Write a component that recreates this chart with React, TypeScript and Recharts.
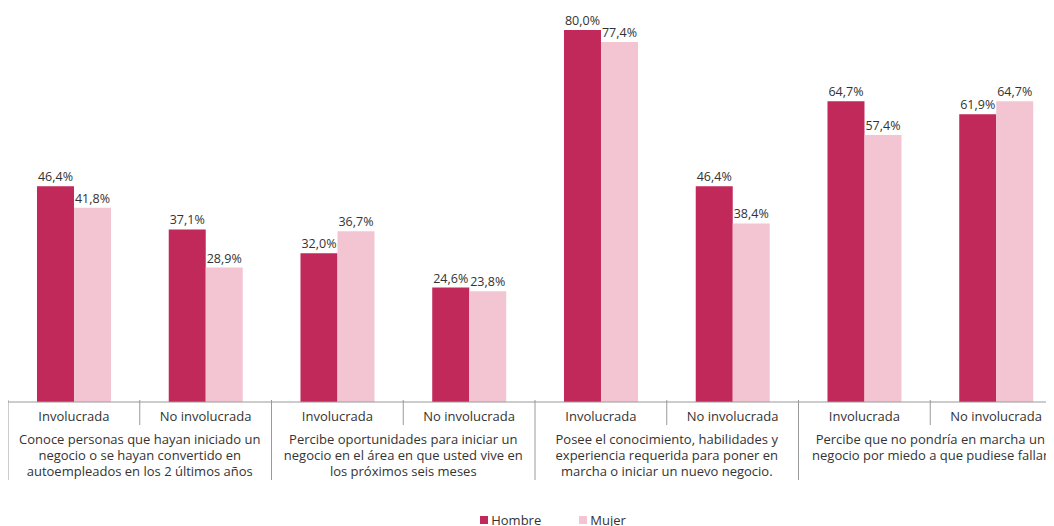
import { BarChart, Bar, XAxis, YAxis, Legend, LabelList } from "recharts";

const subGroups = [
  "Involucrada",
  "No involucrada",
  "Involucrada",
  "No involucrada",
  "Involucrada",
  "No involucrada",
  "Involucrada",
  "No involucrada",
];

const categoryLines = [
  ["Conoce personas que hayan iniciado un", "negocio o se hayan convertido en", "autoempleados en los 2 últimos años"],
  ["Percibe oportunidades para iniciar un", "negocio en el área en que usted vive en", "los próximos seis meses"],
  ["Posee el conocimiento, habilidades y", "experiencia requerida para poner en", "marcha o iniciar un nuevo negocio."],
  ["Percibe que no pondría en marcha un", "negocio por miedo a que pudiese fallar"],
];

const hombre = [46.4, 37.1, 32.0, 24.6, 80.0, 46.4, 64.7, 61.9];
const mujer = [41.8, 28.9, 36.7, 23.8, 77.4, 38.4, 57.4, 64.7];

const data = subGroups.map((s, i) => ({ key: i, sub: s, hombre: hombre[i], mujer: mujer[i] }));

const CHART_W = 1054;
const CHART_H = 530;
const MARGIN = { top: 22, right: 0, left: 0, bottom: 9 };
const BAND = (CHART_W - MARGIN.left - MARGIN.right) / data.length;

const FONT = "'Open Sans', sans-serif";
const TEXT = "#333333";
const RULE = "#9a9a9a";
const HOMBRE = "#c1295a";
const MUJER = "#f3c4d2";

const fmt = (v: number) => v.toFixed(1).replace(".", ",") + "%";

function GroupTick(props: any) {
  const { x, y, index } = props;
  const left = x - BAND / 2;
  const right = x + BAND / 2;
  const isFirst = index % 2 === 0;
  const cat = categoryLines[Math.floor(index / 2)];
  return (
    <g>
      <line x1={left} x2={left} y1={y - 2} y2={y + (isFirst ? 78 : 23)} stroke={RULE} strokeWidth={1} />
      {index === data.length - 1 && (
        <line x1={right} x2={right} y1={y - 2} y2={y + 78} stroke={RULE} strokeWidth={1} />
      )}
      <text x={x} y={y + 14} textAnchor="middle" dominantBaseline="central" fontSize={13} fill={TEXT} fontFamily={FONT}>
        {subGroups[index]}
      </text>
      {isFirst &&
        cat.map((line, k) => (
          <text
            key={k}
            x={right}
            y={y + 37 + k * 16}
            textAnchor="middle"
            dominantBaseline="central"
            fontSize={13}
            fill={TEXT}
            fontFamily={FONT}
          >
            {line}
          </text>
        ))}
    </g>
  );
}

function LegendContent() {
  const items = [
    { name: "Hombre", color: HOMBRE },
    { name: "Mujer", color: MUJER },
  ];
  return (
    <div style={{ display: "flex", justifyContent: "center", gap: 38, fontFamily: FONT, fontSize: 13, color: TEXT, paddingLeft: 36 }}>
      {items.map((it) => (
        <div key={it.name} style={{ display: "flex", alignItems: "center", gap: 3 }}>
          <span style={{ width: 8, height: 8, background: it.color, display: "inline-block" }} />
          <span>{it.name}</span>
        </div>
      ))}
    </div>
  );
}

export default function App() {
  return (
    <div style={{ width: 1054, height: 518, overflow: "hidden" }}>
      <BarChart
        width={CHART_W}
        height={CHART_H}
        data={data}
        margin={MARGIN}
        barCategoryGap="22%"
        barGap={0}
      >
        <XAxis
          dataKey="key"
          tick={<GroupTick />}
          tickLine={false}
          tickSize={0}
          tickMargin={0}
          interval={0}
          height={109}
          axisLine={{ stroke: RULE }}
        />
        <YAxis hide domain={[0, 80]} />
        <Legend verticalAlign="bottom" content={<LegendContent />} />
        <Bar dataKey="hombre" name="Hombre" fill={HOMBRE} isAnimationActive={false}>
          <LabelList dataKey="hombre" position="top" formatter={(v: any) => fmt(Number(v))} fontSize={12.5} fill={TEXT} fontFamily={FONT} />
        </Bar>
        <Bar dataKey="mujer" name="Mujer" fill={MUJER} isAnimationActive={false}>
          <LabelList dataKey="mujer" position="top" formatter={(v: any) => fmt(Number(v))} fontSize={12.5} fill={TEXT} fontFamily={FONT} />
        </Bar>
      </BarChart>
    </div>
  );
}
